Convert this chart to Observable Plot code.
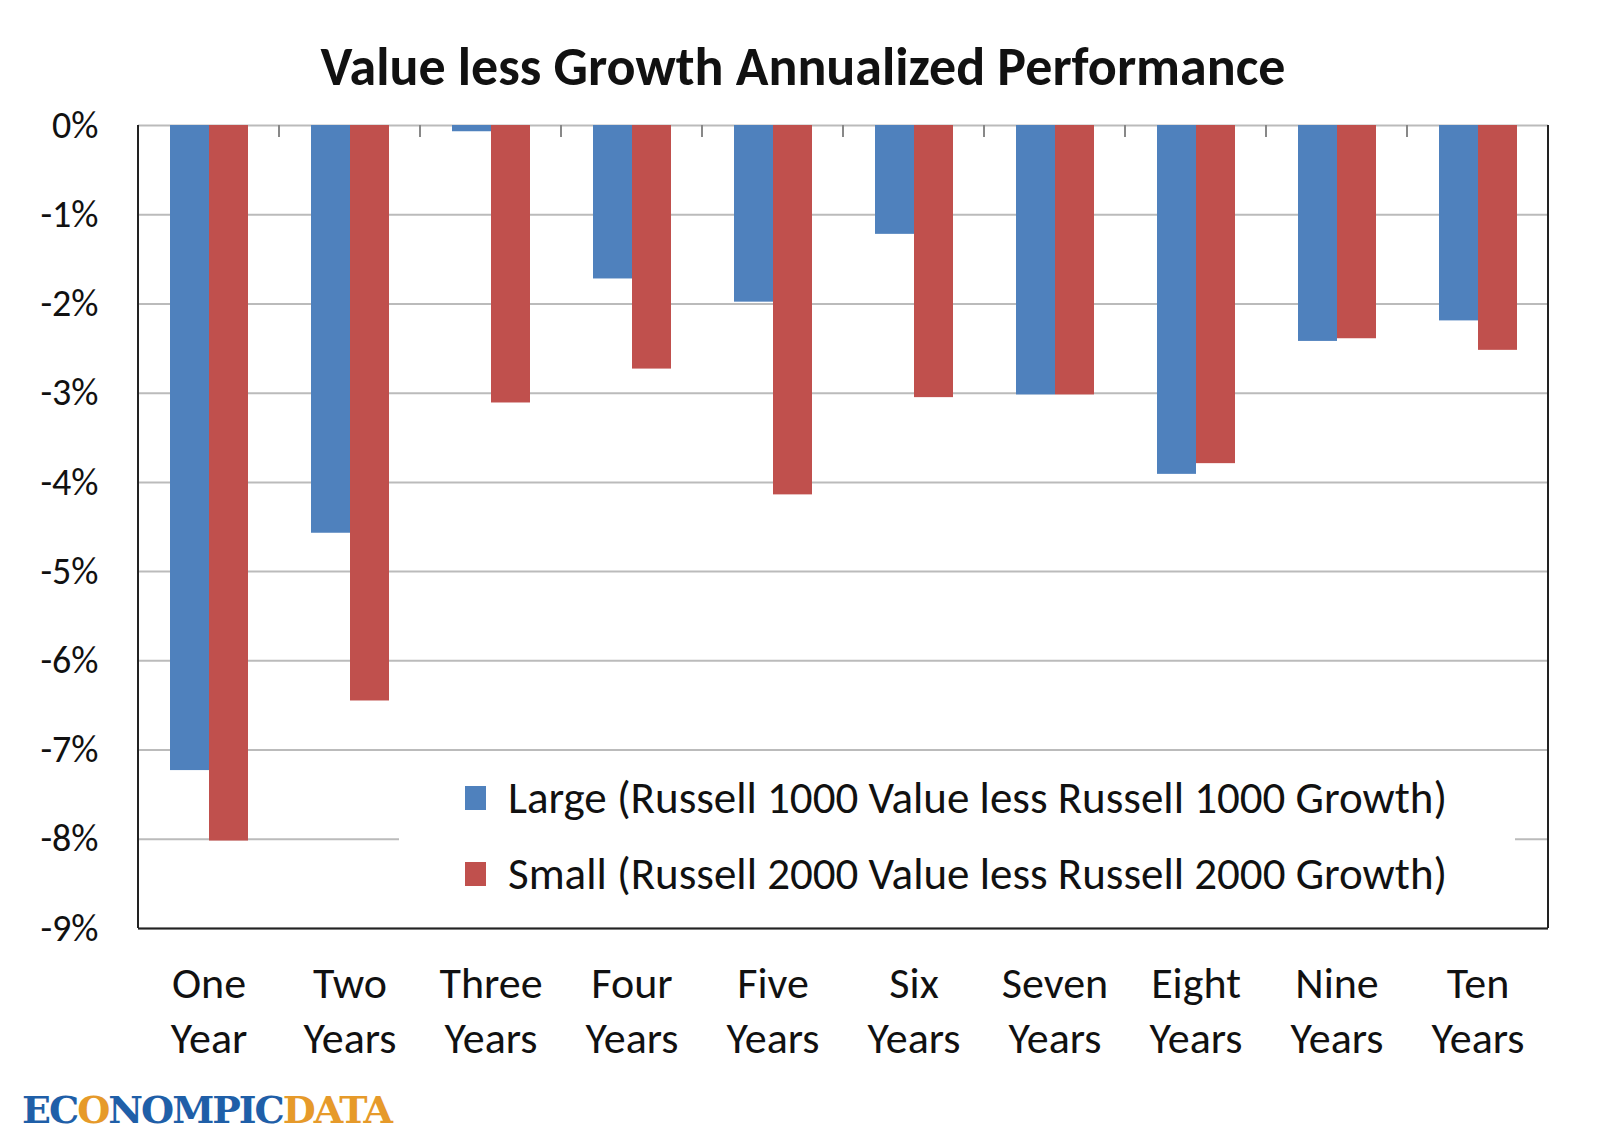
<!DOCTYPE html>
<html><head><meta charset="utf-8">
<script src="https://cdn.jsdelivr.net/npm/d3@7"></script>
<script src="https://cdn.jsdelivr.net/npm/@observablehq/plot@0.6"></script>
<style>
body{margin:0;background:#fff;font-family:Calibri,Carlito,"Liberation Sans",sans-serif;}
#wrap{position:relative;width:1600px;height:1140px;}
#title{position:absolute;left:0;width:1606px;top:34px;text-align:center;font-size:54px;font-weight:bold;color:#111;}
#legend{position:absolute;left:399px;top:762px;width:1116px;height:144px;background:#fff;font-size:45px;color:#111;}
.li{position:absolute;left:66px;display:flex;align-items:center;}
.sw{width:21px;height:24px;margin-right:22px;}
#logo{position:absolute;left:22px;top:1087px;font-family:"DejaVu Serif",serif;font-weight:bold;font-size:38px;letter-spacing:-2px;}
</style></head><body>
<div id="wrap">
<div id="chart"></div>
<div id="title">Value less Growth Annualized Performance</div>
<div id="legend">
<div class="li" style="top:8px"><div class="sw" style="background:#4f81bd"></div>Large (Russell 1000 Value less Russell 1000 Growth)</div>
<div class="li" style="top:84px"><div class="sw" style="background:#c0504d"></div>Small (Russell 2000 Value less Russell 2000 Growth)</div>
</div>
<div id="logo"><span style="color:#1f5fa8">EC</span><span style="color:#e69a2a">O</span><span style="color:#1f5fa8">NOMPIC</span><span style="color:#e69a2a">DATA</span></div>
</div>
<script>
const categories = ["One Year","Two Years","Three Years","Four Years","Five Years","Six Years","Seven Years","Eight Years","Nine Years","Ten Years"];
const series = ["Large","Small"];
const largeValues = [-7.23,-4.57,-0.07,-1.72,-1.98,-1.22,-3.02,-3.91,-2.42,-2.19];
const smallValues = [-8.02,-6.45,-3.11,-2.73,-4.14,-3.05,-3.02,-3.79,-2.39,-2.52];
const yTicks = [0,-1,-2,-3,-4,-5,-6,-7,-8,-9];
const colors = ["#4f81bd","#c0504d"];
const data = [];
categories.forEach((c,i)=>{data.push({cat:c,s:"Large",v:largeValues[i]});data.push({cat:c,s:"Small",v:smallValues[i]});});
const chart = Plot.plot({
  width:1600,height:1140,marginLeft:138,marginRight:52,marginTop:125,marginBottom:212,
  style:{fontFamily:"Calibri,Carlito,'Liberation Sans',sans-serif",fontSize:"38px",color:"#111"},
  fx:{domain:categories,padding:0,label:null},
  x:{domain:series,paddingInner:0,paddingOuter:0.79,axis:null},
  y:{domain:[-9,0],ticks:yTicks,tickFormat:d=>d+"%",label:null,tickSize:0,tickPadding:40},
  color:{domain:series,range:colors},
  marks:[
    Plot.axisFx({anchor:"bottom",tickFormat:d=>d.replace(" ","\n"),tickSize:0,tickPadding:30,fontSize:44,label:null,lineHeight:1.25}),
    Plot.gridY(yTicks,{stroke:"#bbb",strokeOpacity:1,strokeWidth:2}),
    Plot.barY(data,{fx:"cat",x:"s",y:"v",fill:"s"}),
    Plot.ruleY([-9],{stroke:"#222",strokeWidth:2})
  ]
});
document.getElementById("chart").appendChild(chart);
const svg = d3.select(chart);
const fx = chart.scale("fx");
const y = chart.scale("y");
const y0 = y.apply(0), y9 = y.apply(-9);
const lefts = categories.map(c=>fx.apply(c));
const bw = fx.bandwidth;
lefts.concat([lefts[lefts.length-1]+bw]).forEach(xp=>{
  svg.append("line").attr("x1",xp).attr("x2",xp).attr("y1",y0).attr("y2",y0+12).attr("stroke","#888").attr("stroke-width",2);
});
const xl = lefts[0], xr = lefts[lefts.length-1]+bw;
svg.append("line").attr("x1",xl).attr("x2",xl).attr("y1",y0).attr("y2",y9).attr("stroke","#222").attr("stroke-width",2);
svg.append("line").attr("x1",xr).attr("x2",xr).attr("y1",y0).attr("y2",y9).attr("stroke","#222").attr("stroke-width",2);
</script>
</body></html>
